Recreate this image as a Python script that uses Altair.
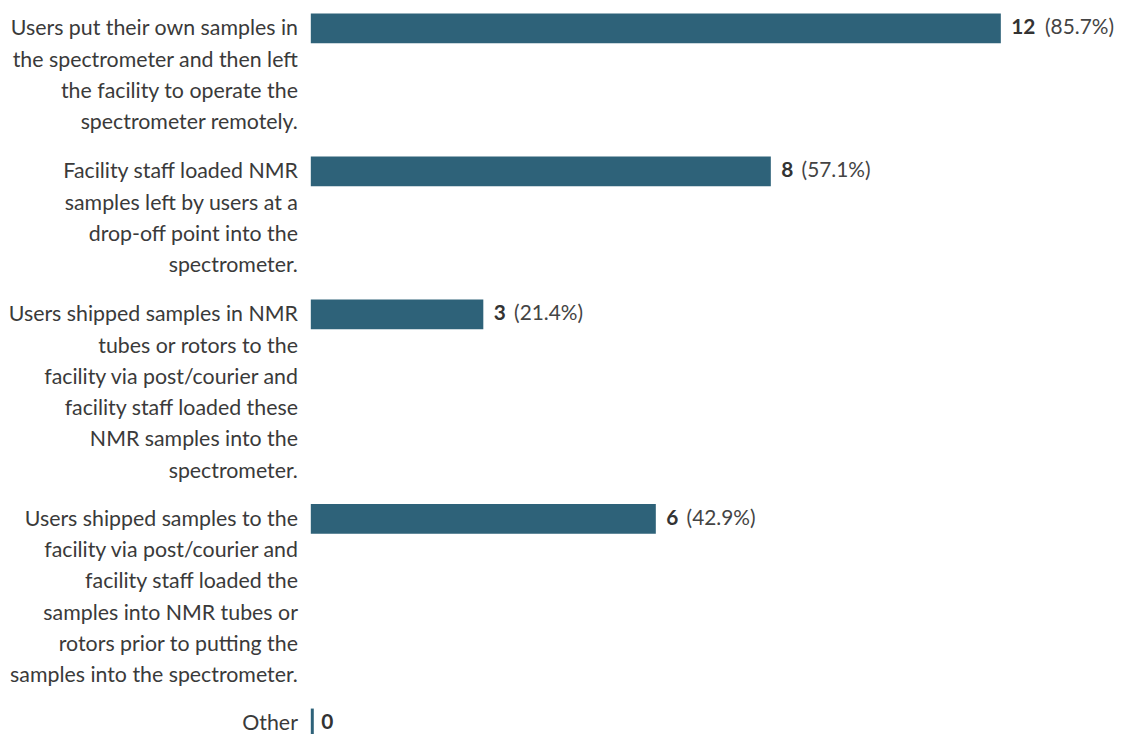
import altair as alt
import pandas as pd

labels = [
    "Users put their own samples in \nthe spectrometer and then left \nthe facility to operate the \nspectrometer remotely.",
    "Facility staff loaded NMR \nsamples left by users at a \ndrop-off point into the \nspectrometer.",
    "Users shipped samples in NMR \ntubes or rotors to the \nfacility via post/courier and \nfacility staff loaded these \nNMR samples into the \nspectrometer.",
    "Users shipped samples to the \nfacility via post/courier and \nfacility staff loaded the \nsamples into NMR tubes or \nrotors prior to putting the \nsamples into the spectrometer.",
    "Other",
]
counts = [12, 8, 3, 6, 0]
percents = ["(85.7%)", "(57.1%)", "(21.4%)", "(42.9%)", ""]

LINE = 31.0
GAP = 20.0
BAR = 30.0
PLOT_H = 723

nlines = [len(s.split("\n")) for s in labels]
starts = []
acc = 0.0
for n in nlines:
    starts.append(acc)
    acc += n * LINE + GAP

df = pd.DataFrame({
    "label": labels,
    "count": counts,
    "pct": percents,
    "start": starts,
})
df["zero"] = 0
df["end"] = df["start"] + BAR
df["mid"] = df["start"] + BAR / 2
df["base"] = df["start"] + 22
df["digits"] = df["count"].astype(str).str.len()

xs = alt.Scale(domain=[0, 12], nice=False, zero=True)
ys = alt.Scale(domain=[0, PLOT_H], nice=False, zero=False, reverse=True)

FONT = "Lato"
FS = 21
LFS = 21.5
BARC = "#2e6279"
TXT = "#3a3a3a"

base = alt.Chart(df)

bars = base.transform_filter("datum.count > 0").mark_rect(color=BARC).encode(
    x=alt.X("count:Q", scale=xs, axis=None),
    x2="zero:Q",
    y=alt.Y("start:Q", scale=ys, axis=None),
    y2="end:Q",
)

zero = base.transform_filter("datum.count == 0").mark_rule(
    color=BARC, strokeWidth=3, xOffset=1.5
).encode(
    x=alt.X("count:Q", scale=xs, axis=None),
    y=alt.Y("start:Q", scale=ys, axis=None),
    y2="end:Q",
)

cat_text = base.mark_text(
    align="right", baseline="alphabetic", dx=-13, lineBreak="\n",
    lineHeight=31.5, fontSize=LFS, font=FONT, color=TXT,
).encode(
    x=alt.X("zero:Q", scale=xs, axis=None),
    y=alt.Y("base:Q", scale=ys, axis=None),
    text="label:N",
)

cnt_text = base.mark_text(
    align="left", baseline="middle", dx=10.5, fontSize=FS, font=FONT,
    fontWeight="bold", color="#333333",
).encode(
    x=alt.X("count:Q", scale=xs, axis=None),
    y=alt.Y("mid:Q", scale=ys, axis=None),
    text="count:Q",
)

pct1 = base.transform_filter("datum.digits == 1 && datum.count > 0").mark_text(
    align="left", baseline="middle", dx=31, fontSize=FS, font=FONT, color="#444444",
).encode(
    x=alt.X("count:Q", scale=xs, axis=None),
    y=alt.Y("mid:Q", scale=ys, axis=None),
    text="pct:N",
)

pct2 = base.transform_filter("datum.digits == 2").mark_text(
    align="left", baseline="middle", dx=44.5, fontSize=FS, font=FONT, color="#444444",
).encode(
    x=alt.X("count:Q", scale=xs, axis=None),
    y=alt.Y("mid:Q", scale=ys, axis=None),
    text="pct:N",
)

chart = alt.layer(bars, zero, cat_text, cnt_text, pct1, pct2).properties(
    width=695, height=PLOT_H,
    autosize=alt.AutoSizeParams(type="none"),
    padding={"left": 305, "top": 3, "right": 115, "bottom": 0},
).configure_view(stroke=None)

chart.save("out.html", embed_options={"renderer": "svg", "actions": False})
